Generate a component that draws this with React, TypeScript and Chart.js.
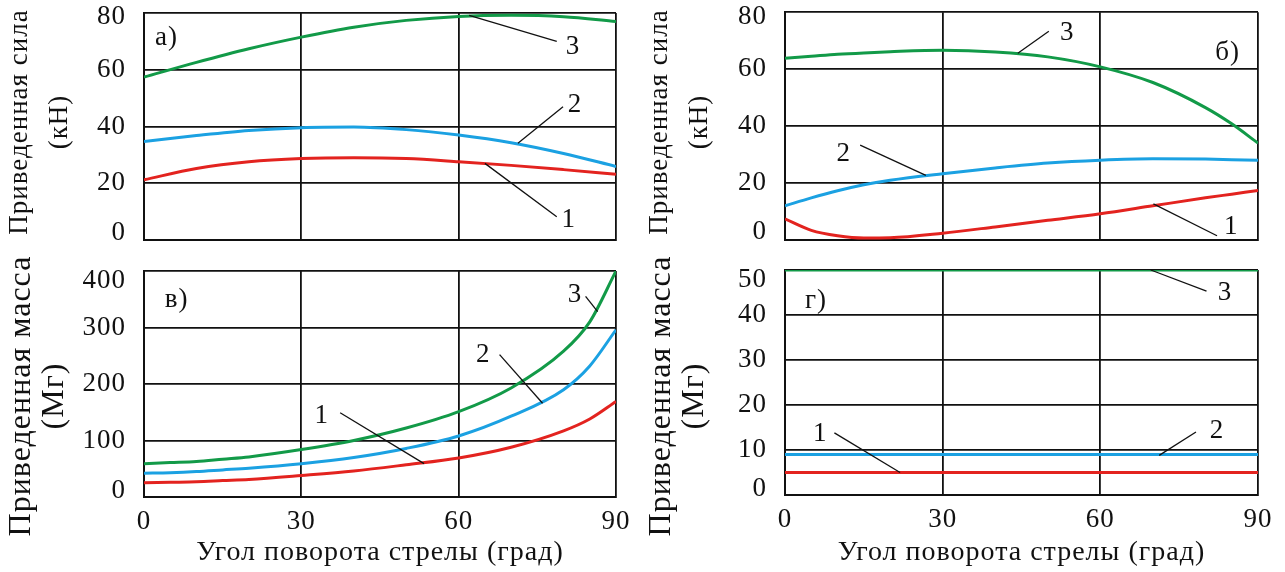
import React, { useEffect, useRef } from 'react';
import { Chart, registerables } from 'chart.js';

Chart.register(...registerables);

const FONT = "'Liberation Serif', 'Times New Roman', Times, serif";
const INK = '#111111';
const RED = '#e3231f';
const BLUE = '#1ba1e2';
const GREEN = '#129a48';
const NONE = 'rgba(0,0,0,0)';

// x-axis angles (degrees)
const ANGLES = [0, 10, 20, 30, 40, 50, 60, 70, 80, 90];
const ANGLES_FINE = [0, 5, 10, 15, 20, 30, 40, 50, 60, 70, 80, 85, 90];
const ANGLES_FLAT = [0, 90];
const X_TICK_STEP = 30;

// panel а) reduced force, kN (x = ANGLES)
const A_F1 = [21.2, 25.2, 27.6, 28.7, 29.0, 28.7, 27.6, 26.3, 24.8, 23.2];
const A_F2 = [34.7, 36.8, 38.6, 39.6, 39.8, 38.9, 37.0, 34.3, 30.5, 25.9];
const A_F3 = [57.4, 62.6, 67.4, 71.5, 75.0, 77.4, 78.8, 79.2, 78.7, 77.0];

// panel б) reduced force, kN (x = ANGLES_FINE)
const B_F1 = [7.4, 3.4, 1.5, 0.7, 0.8, 2.4, 4.6, 6.9, 9.2, 12.0, 14.8, 16.1, 17.4];
const B_F2 = [12.0, 14.8, 17.3, 19.4, 21.0, 23.3, 25.3, 27.0, 28.0, 28.5, 28.4, 28.2, 28.0];
const B_F3 = [63.8, 64.5, 65.2, 65.7, 66.1, 66.6, 66.0, 64.3, 60.8, 55.3, 46.5, 40.8, 34.0];

// panel в) reduced mass, Mg (x = ANGLES_FINE)
const C_M1 = [25, 26, 27, 29, 31, 38, 46, 57, 69, 88, 117, 138, 169];
const C_M2 = [42, 43, 45, 48, 51, 59, 70, 86, 108, 143, 190, 232, 296];
const C_M3 = [59, 61, 63, 67, 71, 84, 100, 122, 151, 193, 258, 310, 400];

// panel г) reduced mass, Mg (x = ANGLES_FLAT)
const D_M1 = [5, 5];
const D_M2 = [9, 9];
const D_M3 = [50, 50];

// y-axis ranges
const FORCE_MAX = 80;
const FORCE_STEP = 20;
const MASS_C_MAX = 400;
const MASS_C_STEP = 100;
const MASS_D_MAX = 50;
const MASS_D_STEP = 10;

const FORCE_TITLE = ['Приведенная сила', '(кН)'];
const MASS_TITLE = ['Приведенная масса', '(Мг)'];
const X_TITLE = 'Угол поворота стрелы (град)';

// annotations in data units: [text, textX, textY, leaderX1, leaderY1, leaderX2, leaderY2]
type Note = [string, number, number, number, number, number, number];
const A_NOTES: Note[] = [
  ['1', 81.0, 7.0, 65.0, 27.0, 78.7, 8.2],
  ['2', 82.2, 47.6, 71.3, 34.1, 79.9, 47.0],
  ['3', 81.8, 68.0, 62.0, 79.2, 78.7, 70.0],
];
const B_NOTES: Note[] = [
  ['1', 84.9, 4.5, 70.1, 12.7, 82.2, 1.5],
  ['2', 11.2, 30.4, 26.8, 22.7, 14.3, 33.3],
  ['3', 53.7, 72.7, 44.3, 65.6, 50.2, 73.3],
];
const C_NOTES: Note[] = [
  ['1', 33.9, 143, 53.4, 59, 37.4, 149],
  ['2', 64.7, 252, 76.0, 166, 67.8, 252],
  ['3', 82.2, 357, 86.5, 328, 84.2, 355],
];
const D_NOTES: Note[] = [
  ['1', 6.7, 13.5, 21.9, 5.0, 9.4, 13.8],
  ['2', 82.2, 14.2, 71.2, 8.8, 78.2, 14.0],
  ['3', 83.7, 45.0, 69.6, 50.0, 80.2, 45.3],
];
// panel letters: [text, x, y]
const A_TAG: [string, number, number] = ['а)', 4.3, 71.2];
const B_TAG: [string, number, number] = ['б)', 84.2, 65.6];
const C_TAG: [string, number, number] = ['в)', 6.2, 349];
const D_TAG: [string, number, number] = ['г)', 5.9, 43.2];

interface TitleStyle {
  size: number;
  x: number; // centre of first line, px from canvas left
  gap: number; // distance between the two lines
  y: number; // centre along the axis, px from canvas top
}
const FORCE_TITLE_STYLE: TitleStyle = { size: 27, x: 20, gap: 40, y: 122 };
const MASS_TITLE_STYLE: TitleStyle = { size: 32, x: 22, gap: 33, y: 141 };

interface Spec {
  left: number;
  top: number;
  width: number;
  height: number;
  xs: number[];
  series: { values: number[]; color: string }[];
  yMax: number;
  yStep: number;
  yTitle: string[];
  yTitleStyle: TitleStyle;
  showX: boolean;
  padTop: number;
  padRight: number;
  padBottom: number;
  xHeight: number;
  yWidth: number;
  topLabelShift: number;
  bottomLabelShift: number;
  notes: Note[];
  tag: [string, number, number];
}

const SPECS: Spec[] = [
  {
    left: 0, top: 0, width: 640, height: 255, xs: ANGLES,
    series: [{ values: A_F1, color: RED }, { values: A_F2, color: BLUE }, { values: A_F3, color: GREEN }],
    yMax: FORCE_MAX, yStep: FORCE_STEP, yTitle: FORCE_TITLE, yTitleStyle: FORCE_TITLE_STYLE, showX: false,
    padTop: 13, padRight: 24, padBottom: 15, xHeight: 0, yWidth: 144,
    topLabelShift: 4, bottomLabelShift: -7, notes: A_NOTES, tag: A_TAG,
  },
  {
    left: 640, top: 0, width: 645, height: 255, xs: ANGLES_FINE,
    series: [{ values: B_F1, color: RED }, { values: B_F2, color: BLUE }, { values: B_F3, color: GREEN }],
    yMax: FORCE_MAX, yStep: FORCE_STEP, yTitle: FORCE_TITLE, yTitleStyle: FORCE_TITLE_STYLE, showX: false,
    padTop: 12, padRight: 27, padBottom: 15, xHeight: 0, yWidth: 145,
    topLabelShift: 5, bottomLabelShift: -8, notes: B_NOTES, tag: B_TAG,
  },
  {
    left: 0, top: 255, width: 640, height: 317, xs: ANGLES_FINE,
    series: [{ values: C_M1, color: RED }, { values: C_M2, color: BLUE }, { values: C_M3, color: GREEN }],
    yMax: MASS_C_MAX, yStep: MASS_C_STEP, yTitle: MASS_TITLE, yTitleStyle: MASS_TITLE_STYLE, showX: true,
    padTop: 16, padRight: 24, padBottom: 0, xHeight: 75, yWidth: 144,
    topLabelShift: 10, bottomLabelShift: -6, notes: C_NOTES, tag: C_TAG,
  },
  {
    left: 640, top: 255, width: 645, height: 317, xs: ANGLES_FLAT,
    series: [{ values: D_M1, color: RED }, { values: D_M2, color: BLUE }, { values: D_M3, color: GREEN }],
    yMax: MASS_D_MAX, yStep: MASS_D_STEP, yTitle: MASS_TITLE, yTitleStyle: MASS_TITLE_STYLE, showX: true,
    padTop: 15, padRight: 27, padBottom: 0, xHeight: 77, yWidth: 145,
    topLabelShift: 10, bottomLabelShift: -6, notes: D_NOTES, tag: D_TAG,
  },
];

function makeNotesPlugin(spec: Spec) {
  return {
    id: 'panelNotes',
    beforeDraw(chart: any) {
      // slightly widened lettering, like the reference typesetting
      chart.ctx.letterSpacing = '1px';
    },
    afterDatasetsDraw(chart: any) {
      const { ctx } = chart;
      const xs = chart.scales.x;
      const ys = chart.scales.y;
      ctx.save();
      ctx.strokeStyle = INK;
      ctx.lineWidth = 1.3;
      for (const n of spec.notes) {
        ctx.beginPath();
        ctx.moveTo(xs.getPixelForValue(n[3]), ys.getPixelForValue(n[4]));
        ctx.lineTo(xs.getPixelForValue(n[5]), ys.getPixelForValue(n[6]));
        ctx.stroke();
      }
      ctx.fillStyle = INK;
      ctx.font = `27px ${FONT}`;
      ctx.textAlign = 'center';
      ctx.textBaseline = 'middle';
      for (const n of spec.notes) {
        ctx.fillText(n[0], xs.getPixelForValue(n[1]), ys.getPixelForValue(n[2]));
      }
      ctx.fillText(spec.tag[0], xs.getPixelForValue(spec.tag[1]), ys.getPixelForValue(spec.tag[2]));
      ctx.restore();
    },
    afterDraw(chart: any) {
      // rotated two-line y-axis title
      const { ctx } = chart;
      const st = spec.yTitleStyle;
      ctx.save();
      ctx.translate(st.x, st.y);
      ctx.rotate(-Math.PI / 2);
      ctx.fillStyle = INK;
      ctx.font = `${st.size}px ${FONT}`;
      ctx.textAlign = 'center';
      ctx.textBaseline = 'middle';
      spec.yTitle.forEach((line, i) => ctx.fillText(line, 0, i * st.gap));
      ctx.restore();
    },
  };
}

function shiftItem(item: any, dy: number) {
  const t = item && item.options && item.options.translation ? item.options.translation : item && item.translation;
  if (t && t.length === 2) t[1] += dy;
}

function Panel({ spec }: { spec: Spec }) {
  const ref = useRef<HTMLCanvasElement | null>(null);
  useEffect(() => {
    if (!ref.current) return;
    const datasets = spec.series.map((s) => ({
      data: spec.xs.map((xv, i) => ({ x: xv, y: s.values[i] })),
      borderColor: s.color,
      borderWidth: 3,
      pointRadius: 0,
      fill: false,
      cubicInterpolationMode: 'monotone' as const,
    }));
    const chart = new Chart(ref.current, {
      type: 'line',
      data: { datasets },
      plugins: [makeNotesPlugin(spec)],
      options: {
        responsive: false,
        animation: false,
        events: [],
        layout: { padding: { left: 0, top: spec.padTop, right: spec.padRight, bottom: spec.padBottom } },
        plugins: { legend: { display: false }, tooltip: { enabled: false } },
        scales: {
          x: {
            type: 'linear',
            min: 0,
            max: 90,
            ticks: {
              stepSize: X_TICK_STEP,
              display: spec.showX,
              padding: 0,
              color: INK,
              font: { family: FONT, size: 27, lineHeight: 1 },
            },
            grid: { color: INK, lineWidth: 1.8, drawTicks: true, tickLength: 11, tickColor: NONE },
            border: { color: INK, width: 2 },
            title: {
              display: spec.showX,
              text: X_TITLE,
              color: INK,
              font: { family: FONT, size: 28, lineHeight: 1.2 },
              padding: { top: 0, bottom: 3 },
            },
            afterFit: (s: any) => {
              s.height = spec.xHeight;
            },
          },
          y: {
            type: 'linear',
            min: 0,
            max: spec.yMax,
            ticks: {
              stepSize: spec.yStep,
              padding: 0,
              color: INK,
              font: { family: FONT, size: 27, lineHeight: 0.9 },
            },
            grid: { color: INK, lineWidth: 1.8, drawTicks: true, tickLength: 18, tickColor: NONE },
            border: { color: INK, width: 2 },
            title: { display: false },
            afterFit: (s: any) => {
              s.width = spec.yWidth;
              if (!s.__labelPatch && typeof s._computeLabelItems === 'function') {
                const orig = s._computeLabelItems;
                s._computeLabelItems = function (area: any) {
                  const items = orig.call(this, area);
                  if (items && items.length > 1) {
                    shiftItem(items[0], spec.bottomLabelShift);
                    shiftItem(items[items.length - 1], spec.topLabelShift);
                  }
                  return items;
                };
                s.__labelPatch = true;
              }
            },
          },
        },
      },
    });
    return () => chart.destroy();
  }, [spec]);
  return (
    <canvas
      ref={ref}
      width={spec.width}
      height={spec.height}
      style={{ position: 'absolute', left: spec.left, top: spec.top, width: spec.width, height: spec.height }}
    />
  );
}

export default function App() {
  return (
    <div style={{ position: 'fixed', left: 0, top: 0, width: 1285, height: 572, background: '#fff', overflow: 'hidden' }}>
      {SPECS.map((s, i) => (
        <Panel key={i} spec={s} />
      ))}
    </div>
  );
}
